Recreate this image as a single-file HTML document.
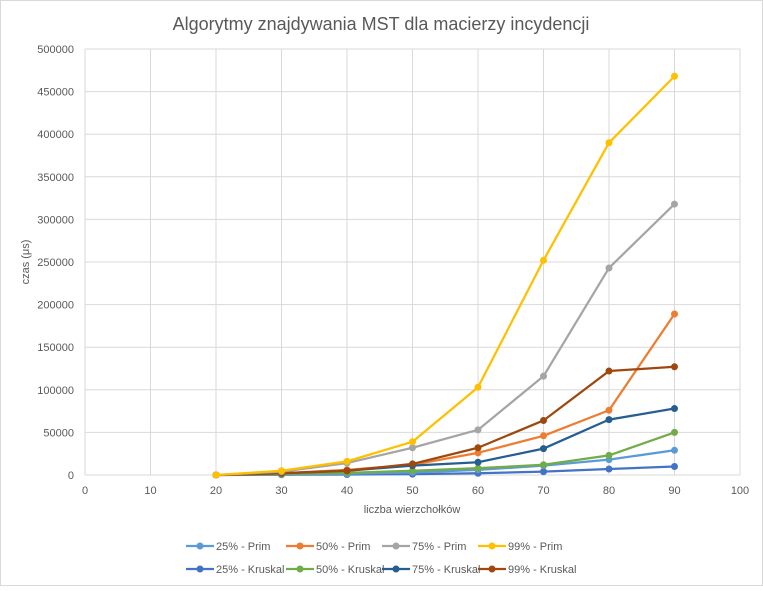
<!DOCTYPE html>
<html><head><meta charset="utf-8"><style>
body{margin:0;background:#fff;font-family:"Liberation Sans",sans-serif;}
svg text{font-family:"Liberation Sans",sans-serif;}
</style></head><body>
<svg id="c" width="763" height="586" xmlns="http://www.w3.org/2000/svg">
<rect x="0.5" y="0.5" width="762" height="585" fill="#fff" stroke="#d9d9d9"/>
<text x="381" y="30" text-anchor="middle" font-size="18" fill="#595959">Algorytmy znajdywania MST dla macierzy incydencji</text>
<text transform="translate(29,262) rotate(-90)" text-anchor="middle" font-size="11" fill="#595959">czas (μs)</text>
<text x="412" y="513" text-anchor="middle" font-size="11" fill="#595959">liczba wierzchołków</text>
<g id="grid"></g><g id="series"></g><g id="legend"></g>
</svg>
<script>
const xVals=[20,30,40,50,60,70,80,90];
const seriesNames=["25% - Prim","50% - Prim","75% - Prim","99% - Prim","25% - Kruskal","50% - Kruskal","75% - Kruskal","99% - Kruskal"];
const seriesColors=["#5b9bd5","#ed7d31","#a5a5a5","#ffc000","#4472c4","#70ad47","#255e91","#9e480e"];
const prim25=[0,500,1500,3000,6000,11000,18000,29000];
const prim50=[0,2000,6000,12000,26000,46000,76000,189000];
const prim75=[0,4000,14000,32000,53000,116000,243000,318000];
const prim99=[0,5000,16000,39000,103000,252000,390000,468000];
const kr25=[0,300,600,1000,2000,4000,7000,10000];
const kr50=[0,1000,2500,5000,8000,12000,23000,50000];
const kr75=[0,2000,5000,11000,15000,31000,65000,78000];
const kr99=[0,2000,5000,13000,32000,64000,122000,127000];
const xTicks=[0,10,20,30,40,50,60,70,80,90,100];
const yTicks=[0,50000,100000,150000,200000,250000,300000,350000,400000,450000,500000];
const NS="http://www.w3.org/2000/svg";
const L=85,R=740,T=49,B=475;
const sx=v=>L+(R-L)*v/100, sy=v=>B-(B-T)*v/500000;
function mk(tag,attrs,parent){const e=document.createElementNS(NS,tag);for(const k in attrs)e.setAttribute(k,attrs[k]);parent.appendChild(e);return e;}
const g=document.getElementById('grid');
xTicks.forEach(t=>{
 const l=mk('line',{x1:sx(t),x2:sx(t),y1:T,y2:B,stroke:'#d9d9d9'},g);
 
 
 const tx=mk('text',{x:sx(t),y:B+19,'text-anchor':'middle','font-size':11,fill:'#595959'},g);tx.textContent=t;
 
 
});
yTicks.forEach(t=>{
 const l=mk('line',{x1:L,x2:R,y1:sy(t),y2:sy(t),stroke:'#d9d9d9'},g);
 
 
 const tx=mk('text',{x:L-11,y:sy(t)+4,'text-anchor':'end','font-size':11,fill:'#595959'},g);tx.textContent=t;
 
 
});
const data=[prim25,prim50,prim75,prim99,kr25,kr50,kr75,kr99];
const order=[4,0,5,1,6,7,2,3];
const s=document.getElementById('series');
order.forEach(i=>{
 const grp=mk('g',{},s);
 
 
 const pts=data[i].map((v,j)=>sx(xVals[j])+','+sy(v)).join(' ');
 mk('polyline',{points:pts,fill:'none',stroke:seriesColors[i],'stroke-width':2.25,'stroke-linejoin':'round'},grp);
 data[i].forEach((v,j)=>{
  const c=mk('circle',{cx:sx(xVals[j]),cy:sy(v),r:3.5,fill:seriesColors[i]},grp);
  
  
 });
});
const lg=document.getElementById('legend');
const lx=[186,286,382,478],ly=[546,569];
seriesNames.forEach((n,i)=>{
 const x=lx[i%4],y=ly[Math.floor(i/4)];
 const e=mk('g',{},lg);
 
 
 mk('line',{x1:x,x2:x+28,y1:y,y2:y,stroke:seriesColors[i],'stroke-width':2.25},e);
 mk('circle',{cx:x+14,cy:y,r:3.5,fill:seriesColors[i]},e);
 const t=mk('text',{x:x+30,y:y+4,'font-size':11,fill:'#595959'},e);t.textContent=n;
});
</script>
</body></html>
